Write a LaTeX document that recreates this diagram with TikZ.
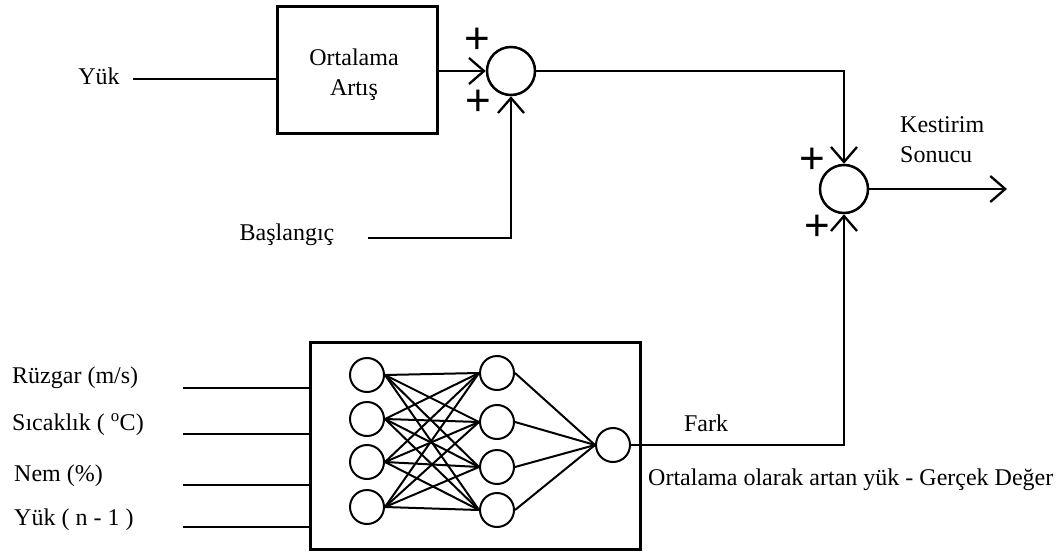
\documentclass[tikz,border=0pt]{standalone}
\usepackage{fontspec}
\setmainfont{Liberation Serif}
\newfontfamily\plusfont{Liberation Sans}
\usetikzlibrary{arrows.meta}

\tikzset{
  lbl/.style={font=\fontsize{24}{30}\selectfont, inner sep=0pt},
  wire/.style={line width=2.5pt},
  arr/.style={wire, -{Straight Barb[length=15pt,width=26pt,line width=2.3pt]}},
  sumnode/.style={circle, draw, line width=2.5pt, minimum size=48pt, inner sep=0pt},
  blockbox/.style={draw, line width=3pt, inner sep=0pt},
  neuron/.style={circle, draw, line width=2pt, minimum size=34pt, inner sep=0pt},
  syn/.style={line width=2pt},
  sign/.style={font=\plusfont\fontsize{44}{44}\selectfont, inner sep=0pt},
}

\begin{document}
\begin{tikzpicture}[x=1pt, y=-1pt]
\useasboundingbox (0,0) rectangle (1059,556);

% averaging block and first summing junction
\node[blockbox, minimum width=160pt, minimum height=127pt] (avg) at (357,70) {};
\node[lbl, align=center] (avgtxt) at (354,75) {Ortalama\\Artış};
\node[sumnode] (sum1) at (511,71) {};
\node[sign] (p1a) at (477,41) {+};
\node[sign] (p1b) at (478,103) {+};

\node[lbl] (yuk) at (99,76) {Yük};
\coordinate (yukS) at (133,79);
\draw[wire] (yukS) -- (yukS -| avg.west);
\draw[arr] (avg.east |- sum1.west) -- (sum1.west);

\node[lbl] (bas) at (287,235) {Başlangıç};
\coordinate (basS) at (368,238);
\draw[arr] (basS) -- (basS -| sum1.south) -- (sum1.south);

% second summing junction and output
\node[sumnode] (sum2) at (844,189) {};
\node[sign] (p2a) at (812,161) {+};
\node[sign] (p2b) at (817,228) {+};
\coordinate (outE) at (1007,189);
\draw[arr] (sum1.east) -- (sum1.east -| sum2.north) -- (sum2.north);
\draw[arr] (sum2.east) -- (outE);
\node[lbl, align=left, anchor=west] (kes) at (900,140) {Kestirim\\Sonucu};

% neural network block
\node[blockbox, minimum width=330pt, minimum height=207pt] (nn) at (475,445.5) {};

\foreach \i/\y in {1/375,2/419,3/462,4/507}
  \node[neuron] (in\i) at (367,\y) {};
\foreach \j/\y in {1/373,2/422,3/467,4/510}
  \node[neuron] (hid\j) at (497,\y) {};
\node[neuron] (outn) at (613,445) {};

\foreach \i in {1,...,4}
  \foreach \j in {1,...,4}
    \draw[syn] (in\i.east) -- (hid\j.west);
\foreach \j in {1,...,4}
  \draw[syn] (hid\j.east) -- (outn.west);

% network inputs
\node[lbl, anchor=west] (r1) at (12,378) {Rüzgar (m/s)};
\node[lbl, anchor=west] (r2) at (12,425) {Sıcaklık (~\textsuperscript{o}C)};
\node[lbl, anchor=west] (r3) at (14,476) {Nem (\%)};
\node[lbl, anchor=west] (r4) at (14,520) {Yük ( n - 1 )};
\foreach \k/\y in {1/388,2/434,3/485,4/527}{
  \coordinate (s\k) at (183,\y);
  \draw[wire] (s\k) -- (s\k -| nn.west);
}

% network output to second junction
\draw[arr] (outn.east) -- (outn.east -| sum2.south) -- (sum2.south);
\node[lbl] (fark) at (706,423) {Fark};
\node[lbl, anchor=west] (desc) at (648,480) {Ortalama olarak artan yük - Gerçek Değer};
\end{tikzpicture}
\end{document}
